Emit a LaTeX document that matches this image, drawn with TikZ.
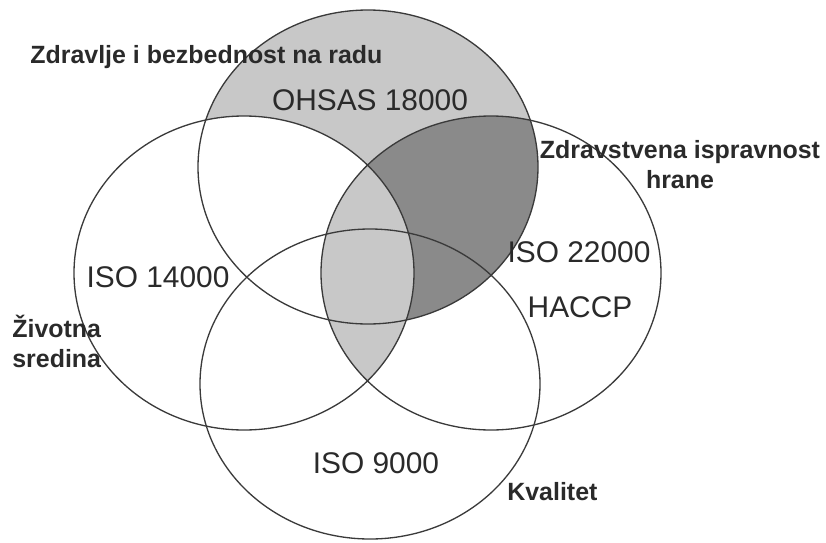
\documentclass[tikz,border=0pt]{standalone}
\usepackage{fontspec}
\setmainfont{Liberation Sans}
\usetikzlibrary{positioning}
\definecolor{mLight}{HTML}{C8C8C8}
\definecolor{mDark}{HTML}{8A8A8A}
\definecolor{mRim}{HTML}{3A3A3A}
\definecolor{mInk}{HTML}{2A2A2A}

\begin{document}
\begin{tikzpicture}[x=0.02cm, y=-0.02cm,
      rim/.style={draw=mRim, line width=0.75pt},
      std/.style={font=\fontsize{17}{20}\selectfont, text=mInk, inner sep=0pt},
      topic/.style={font=\fontsize{14.2}{17}\selectfont\bfseries, text=mInk, inner sep=0pt}]
    \useasboundingbox (0,0) rectangle (826,542);
    % centres of the four fields (y runs downward)
    \coordinate (ohsas) at (368,167);
    \coordinate (env)   at (244,273);
    \coordinate (food)  at (491,273);
    \coordinate (qual)  at (370,384);
    % shading
    \fill[mLight] (ohsas) ellipse (170 and 157);
    \begin{scope}
      \clip (env) ellipse (170 and 157);
      \fill[white] (ohsas) ellipse (170 and 157);
    \end{scope}
    \begin{scope}
      \clip (food) ellipse (170 and 157);
      \fill[mDark] (ohsas) ellipse (170 and 157);
    \end{scope}
    \begin{scope}
      \clip (env) ellipse (170 and 157);
      \fill[mLight] (food) ellipse (170 and 157);
    \end{scope}
    % outlines
    \draw[rim] (ohsas) ellipse (170 and 157);
    \draw[rim] (env)   ellipse (170 and 157);
    \draw[rim] (food)  ellipse (170 and 157);
    \draw[rim] (qual)  ellipse (170 and 155);
    % standards
    \node[std, anchor=base] (s-ohsas) at (370,110) {OHSAS 18000};
    \node[std, anchor=base] (s-env)   at (158,287) {ISO 14000};
    \node[std, anchor=base] (s-food)  at (579,262) {ISO 22000};
    \node[std, anchor=base] (s-haccp) at (580,317) {HACCP};
    \node[std, anchor=base] (s-qual)  at (376,473) {ISO 9000};
    % areas (base of a two-line node is its last line)
    \node[topic, anchor=base west] (a-ohsas) at (30,63) {Zdravlje i bezbednost na radu};
    \node[topic, anchor=base, align=center] (a-food) at (680,188) {Zdravstvena ispravnost\\hrane};
    \node[topic, anchor=base west, align=left] (a-env) at (12,367) {Životna\\sredina};
    \node[topic, anchor=base west] (a-qual) at (507,500) {Kvalitet};
\end{tikzpicture}
\end{document}
